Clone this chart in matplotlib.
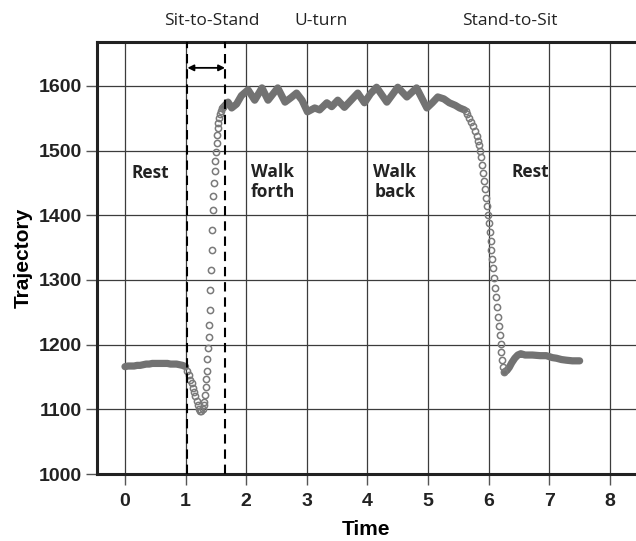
import matplotlib
matplotlib.use("Agg")
import matplotlib.pyplot as plt

# trajectory, split by phase
rest1_t = [0.00, 0.05, 0.10, 0.15, 0.20, 0.25, 0.30, 0.35, 0.40, 0.45, 0.50, 0.55, 0.60,
           0.65, 0.70, 0.75, 0.80, 0.85, 0.90, 0.95, 1.00]
rest1_y = [1166, 1167, 1167, 1167, 1168, 1168, 1169, 1170, 1170, 1171, 1171, 1171, 1171,
           1171, 1171, 1170, 1170, 1170, 1169, 1168, 1166]

sts_t = [1.02, 1.05, 1.08, 1.10, 1.12, 1.14, 1.16, 1.18, 1.20, 1.22, 1.24, 1.26, 1.28,
         1.30, 1.31, 1.32, 1.33, 1.34, 1.35, 1.36, 1.37, 1.38, 1.39, 1.40, 1.41, 1.42,
         1.43, 1.44, 1.45, 1.46, 1.47, 1.48, 1.49, 1.50, 1.51, 1.52, 1.53, 1.54, 1.555,
         1.57, 1.585, 1.60, 1.615]
sts_y = [1160, 1153, 1146, 1140, 1133, 1127, 1120, 1113, 1107, 1100, 1097, 1098, 1101,
         1106, 1112, 1122, 1135, 1147, 1160, 1178, 1195, 1212, 1230, 1254, 1285, 1315,
         1346, 1377, 1408, 1430, 1450, 1468, 1484, 1498, 1512, 1524, 1535, 1543, 1550,
         1557, 1562, 1566, 1568]

walk_t = [1.63, 1.70, 1.76, 1.84, 1.92, 2.03, 2.14, 2.26, 2.36, 2.52, 2.64, 2.74, 2.83,
          2.92, 3.01, 3.13, 3.21, 3.33, 3.41, 3.51, 3.62, 3.73, 3.84, 3.95, 4.05, 4.15,
          4.32, 4.50, 4.65, 4.81, 4.98, 5.07, 5.16, 5.26, 5.35, 5.45, 5.52, 5.60]
walk_y = [1568, 1575, 1566, 1572, 1585, 1594, 1578, 1597, 1578, 1597, 1575, 1582, 1589,
          1578, 1560, 1566, 1563, 1574, 1568, 1578, 1567, 1578, 1589, 1574, 1588, 1598,
          1575, 1598, 1583, 1597, 1566, 1574, 1583, 1580, 1574, 1570, 1566, 1563]

sit_t = [5.62, 5.65, 5.68, 5.71, 5.74, 5.77, 5.80, 5.82, 5.84, 5.86, 5.88, 5.895, 5.91,
         5.925, 5.94, 5.955, 5.97, 5.985, 6.00, 6.015, 6.03, 6.045, 6.06, 6.075, 6.09,
         6.105, 6.12, 6.135, 6.15, 6.165, 6.18, 6.195, 6.21, 6.225, 6.24, 6.26]
sit_y = [1561, 1557, 1551, 1545, 1538, 1530, 1522, 1515, 1508, 1500, 1490, 1478, 1466,
         1453, 1440, 1427, 1414, 1401, 1388, 1374, 1360, 1346, 1332, 1318, 1303, 1288,
         1273, 1258, 1243, 1229, 1215, 1201, 1189, 1177, 1166, 1158]

rest2_t = [6.26, 6.30, 6.34, 6.38, 6.43, 6.48, 6.53, 6.60, 6.72, 6.85, 6.95, 7.05, 7.12,
           7.20, 7.28, 7.38, 7.50]
rest2_y = [1158, 1160, 1165, 1172, 1179, 1184, 1186, 1184, 1184, 1183, 1183, 1180, 1179,
           1177, 1176, 1175, 1175]

x_ticks = [0, 1, 2, 3, 4, 5, 6, 7, 8]
y_ticks = [1000, 1100, 1200, 1300, 1400, 1500, 1600]

phase_labels = ["Sit-to-Stand", "U-turn", "Stand-to-Sit"]
phase_x = [1.43, 3.24, 6.35]
region_labels = ["Rest", "Walk\nforth", "Walk\nback", "Rest"]
region_x = [0.42, 2.44, 4.45, 6.69]
region_y = [1465, 1451, 1451, 1467]
dash_x = [1.03, 1.65]

gray = "#727272"
tick_font = ["Liberation Sans", "DejaVu Sans"]
label_font = ["Open Sans", "DejaVu Sans"]

fig = plt.figure(figsize=(6.36, 5.41), dpi=100)
ax = fig.add_axes([0.1525, 0.1238, 0.8475, 0.7986])

# grid
for x in x_ticks:
    ax.axvline(x, color="#3c3c3c", lw=0.9, zorder=1)
for y in y_ticks[1:]:
    ax.axhline(y, color="#3c3c3c", lw=0.9, zorder=1)

# dense phases drawn as a thick band, fast phases as open circles
for t, y in [(rest1_t, rest1_y), (walk_t, walk_y), (rest2_t, rest2_y)]:
    ax.plot(t, y, color=gray, lw=5.2, solid_capstyle="round", solid_joinstyle="round", zorder=3)
for t, y in [(sts_t, sts_y), (sit_t, sit_y)]:
    ax.plot(t, y, ls="none", marker="o", ms=4.5, mfc="none", mec="#7a7a7a", mew=1.1, zorder=3)

for x in dash_x:
    ax.axvline(x, color="black", lw=1.5, ls=(0, (4.5, 2.8)), zorder=4)

ax.annotate("", xy=(dash_x[0], 1628), xytext=(dash_x[1], 1628),
            arrowprops=dict(arrowstyle="<|-|>", color="black", lw=1.3,
                            mutation_scale=9, shrinkA=0, shrinkB=0), zorder=5)

for lab, x in zip(phase_labels, phase_x):
    ax.text(x, 1701, lab, ha="center", va="center", fontsize=12.5, family=label_font,
            color="#222222", clip_on=False)
for lab, x, y in zip(region_labels, region_x, region_y):
    ax.text(x, y, lab, ha="center", va="center", fontsize=12.5, fontweight="bold",
            family=label_font, color="#222222", linespacing=1.15)

ax.set_xlim(-0.462, 8.43)
ax.set_ylim(1000, 1668)
ax.set_xticks(x_ticks)
ax.set_yticks(y_ticks)
ax.tick_params(axis="both", direction="out", length=8, width=1, color="#555555",
               labelsize=14)
ax.tick_params(axis="y", pad=3)
ax.tick_params(axis="x", pad=6)
for lbl in ax.get_xticklabels() + ax.get_yticklabels():
    lbl.set_family(tick_font)
    lbl.set_fontweight("bold")
    lbl.set_color("#222222")

ax.set_xlabel("Time", fontsize=15, fontweight="bold", family=tick_font, labelpad=7)
ax.set_ylabel("Trajectory", fontsize=15, fontweight="bold", family=tick_font, labelpad=4)

ax.spines["right"].set_visible(False)
for s in ["left", "bottom", "top"]:
    ax.spines[s].set_linewidth(2.2)
    ax.spines[s].set_color("#222222")

fig.savefig("out.png", dpi=100)
